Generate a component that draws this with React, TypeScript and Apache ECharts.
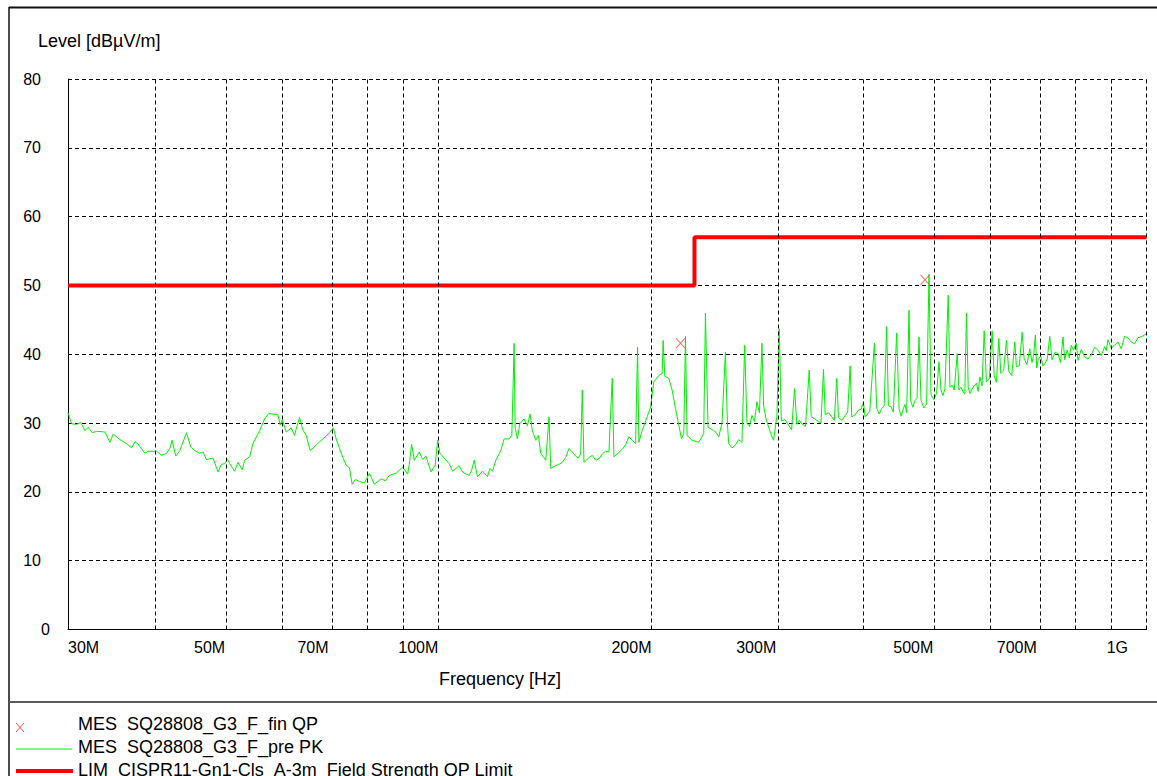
import { useEffect, useRef } from "react";
import * as echarts from "echarts";

// Peak (PK) pre-scan trace: frequency in MHz, level in dBµV/m
const freqMHz = [
  30.0, 30.36, 30.86, 31.26, 31.7, 32.04, 32.46, 32.93, 33.83, 34.38,
  34.75, 35.51, 36.3, 36.89, 37.29, 37.65, 38.52, 38.93, 40.01, 40.66,
  41.33, 41.77, 42.08, 42.59, 43.15, 44.1, 44.72, 45.3, 46.04, 46.54,
  47.05, 48.07, 48.86, 49.4, 49.93, 50.37, 50.75, 51.58, 52.13, 52.88,
  53.28, 54.15, 54.73, 55.94, 56.85, 57.65, 59.36, 59.82, 60.21, 61.0,
  62.0, 62.66, 63.13, 63.69, 64.38, 65.09, 65.94, 67.23, 68.69, 69.45,
  70.2, 71.12, 71.74, 73.3, 74.11, 74.91, 75.57, 76.38, 77.38, 78.64,
  79.93, 81.24, 83.03, 84.19, 85.29, 87.17, 89.05, 90.51, 91.01, 91.69,
  92.5, 94.01, 95.02, 96.08, 97.65, 99.02, 99.76, 100.54, 101.96, 103.62,
  105.9, 108.19, 110.57, 112.38, 113.59, 115.45, 117.33, 119.25, 120.58, 122.55,
  123.87, 125.89, 127.0, 127.54, 127.95, 128.37, 129.33, 130.34, 132.17, 133.6,
  134.77, 135.78, 137.29, 138.45, 139.53, 141.82, 143.34, 144.13, 146.49, 149.67,
  152.95, 156.31, 158.87, 159.7, 160.58, 163.21, 166.8, 170.41, 174.15, 176.03,
  177.0, 181.83, 185.83, 189.92, 191.15, 191.96, 194.03, 197.2, 199.39, 201.54,
  204.84, 207.04, 207.71, 208.86, 211.59, 213.87, 216.24, 218.57, 220.49, 222.15,
  223.37, 224.54, 228.21, 233.23, 237.04, 238.35, 240.37, 244.86, 248.87, 251.55,
  254.34, 255.99, 257.07, 262.72, 268.41, 270.77, 272.8, 277.26, 281.8, 286.41,
  287.99, 292.7, 297.48, 300.68, 303.03, 305.01, 312.31, 318.46, 320.85, 326.09,
  334.02, 336.19, 344.25, 349.88, 351.82, 359.44, 365.33, 367.35, 375.42, 381.56,
  383.55, 391.97, 398.39, 400.59, 412.86, 415.96, 422.76, 429.66, 432.04, 439.1,
  443.84, 447.31, 453.59, 458.47, 462.05, 464.46, 471.14, 477.29, 480.39, 489.2,
  493.03, 496.24, 505.34, 509.29, 512.6, 519.3, 524.9, 527.79, 535.2, 540.44,
  543.42, 551.06, 556.99, 560.07, 566.1, 575.36, 581.74, 589.92, 594.34, 605.43,
  609.37, 618.74, 622.76, 634.19, 639.15, 651.71, 655.1, 667.34, 671.67, 684.22,
  689.35, 696.77, 702.91, 718.35, 730.1, 735.57, 750.02, 762.3, 766.51, 783.11,
  795.93, 800.34, 817.91, 835.62, 853.97, 872.74, 882.14, 891.64, 911.25, 931.27,
  951.42, 972.34, 1000.0,
];
const levelDb = [
  31.5, 29.9, 29.8, 30.1, 28.9, 29.4, 28.6, 28.8, 28.7, 27.2,
  28.4, 27.6, 27.0, 26.4, 27.3, 27.0, 25.6, 25.9, 25.9, 25.3,
  25.6, 26.3, 27.5, 25.2, 26.0, 28.6, 26.5, 26.0, 25.6, 25.8,
  24.7, 24.9, 22.9, 24.0, 24.1, 24.8, 24.1, 23.0, 24.3, 23.2,
  24.6, 25.1, 27.0, 28.9, 30.6, 31.4, 31.2, 29.7, 30.5, 28.7,
  29.3, 28.2, 29.5, 30.8, 29.0, 28.2, 26.0, 26.8, 27.7, 28.1,
  28.6, 29.3, 27.7, 25.0, 23.9, 23.5, 21.1, 21.8, 21.5, 21.3,
  22.7, 21.1, 21.9, 21.6, 22.4, 22.7, 23.6, 22.6, 24.0, 26.9,
  24.6, 25.8, 24.7, 25.2, 22.9, 23.9, 27.5, 25.6, 24.9, 24.1,
  23.4, 22.9, 22.4, 24.6, 22.2, 23.0, 22.2, 23.0, 24.6, 26.0,
  27.7, 27.7, 28.2, 35.5, 41.6, 29.4, 27.7, 29.9, 30.6, 29.6,
  31.3, 28.9, 27.5, 28.2, 25.6, 24.6, 30.9, 23.4, 23.8, 24.3,
  26.3, 25.2, 25.5, 34.8, 24.3, 25.0, 24.6, 25.5, 25.8, 36.5,
  25.1, 26.2, 28.0, 27.0, 41.0, 27.2, 28.9, 30.9, 32.3, 36.0,
  36.9, 37.2, 42.0, 36.8, 36.5, 34.8, 32.1, 29.7, 27.7, 28.5,
  42.6, 28.2, 27.5, 27.2, 28.5, 46.0, 29.4, 28.9, 28.0, 30.0,
  40.3, 30.0, 27.0, 26.8, 27.2, 41.3, 30.0, 31.1, 33.1, 41.6,
  32.5, 29.4, 27.5, 31.0, 43.7, 30.3, 29.7, 35.0, 29.8, 29.9,
  37.7, 30.9, 30.2, 37.8, 31.2, 30.9, 36.5, 30.8, 31.1, 38.3,
  30.9, 31.9, 33.0, 30.9, 41.6, 32.2, 32.1, 44.0, 32.5, 31.6,
  43.1, 32.1, 32.1, 31.5, 46.4, 33.3, 33.3, 42.5, 33.3, 32.8,
  51.6, 34.2, 34.3, 38.9, 34.8, 35.0, 48.6, 35.2, 34.8, 40.1,
  34.8, 34.5, 46.0, 35.2, 34.8, 35.8, 36.7, 43.4, 36.0, 43.4,
  36.9, 42.3, 37.2, 42.0, 37.5, 41.8, 38.2, 43.2, 39.4, 40.8,
  38.8, 42.8, 39.2, 38.6, 42.6, 39.2, 40.1, 42.5, 39.2, 41.3,
  41.6, 39.1, 39.6, 39.9, 40.6, 41.1, 42.1, 40.9, 41.8, 42.6,
  41.8, 42.4, 43.0,
];

// Further readings of the noisy PK band (merged with the trace above by frequency)
const extraFreqMHz = [
  104.8, 107.0, 109.4, 111.5, 116.4, 118.3,
  148.0, 151.3, 154.6, 157.6, 161.9, 165.0, 168.6, 172.3, 179.4, 183.8, 187.9,
  246.9, 259.9, 265.5, 275.0, 279.5, 284.1, 290.3, 295.1,
  308.6, 315.4, 323.5, 330.0, 340.2, 347.0, 355.6, 362.4, 371.4, 378.5, 387.8, 395.2,
  406.7, 419.3, 426.2, 435.6, 450.4, 456.0, 467.8, 474.2, 484.8,
  500.8, 516.0, 531.5, 547.2, 553.9, 563.1, 570.7, 578.5, 585.8, 599.8,
  613.9, 628.4, 645.3, 661.3, 678.0, 693.0, 699.8, 709.0, 714.2, 724.2,
  742.8, 756.1, 772.6, 778.0, 788.5, 808.8, 826.6, 844.7, 863.3, 877.4,
  901.4, 921.2, 941.3, 961.8, 986.2,
];
const extraLevelDb = [
  23.0, 23.8, 22.6, 23.2, 22.6, 23.4,
  24.0, 25.0, 25.8, 24.9, 24.6, 25.3, 24.8, 25.9, 25.6, 26.8, 27.5,
  28.6, 26.4, 27.6, 29.5, 30.2, 31.5, 30.6, 28.3,
  30.5, 29.0, 30.4, 29.5, 30.6, 30.0, 31.5, 30.4, 30.4, 31.6, 31.2, 32.0,
  31.7, 31.3, 32.5, 32.4, 31.0, 32.7, 32.3, 33.6, 32.2,
  33.4, 34.0, 35.5, 35.2, 34.2, 34.3, 35.4, 34.6, 35.4, 36.4,
  35.9, 37.6, 36.9, 38.3, 38.5, 40.0, 38.0, 39.8, 38.3, 39.3,
  40.3, 38.8, 40.6, 39.5, 40.6, 40.7, 39.3, 41.0, 39.8, 40.5,
  41.3, 40.8, 42.4, 41.5, 42.6,
];

// Final quasi-peak (QP) measurements
const qpFreqMHz = [219.8, 486.7];
const qpLevelDb = [41.6, 50.8];

// CISPR 11 class A, 3 m limit
const limitFreqMHz = [30, 230, 230, 1000];
const limitLevelDb = [50, 50, 57, 57];

// Axes
const gridFreqMHz = [40, 50, 60, 70, 80, 90, 100, 200, 300, 400, 500, 600, 700, 800, 900, 1000];
const xTickFreqMHz = [30, 50, 70, 100, 200, 300, 500, 700, 1000];
const xTickLabels = ["30M", "50M", "70M", "100M", "200M", "300M", "500M", "700M", "1G"];
const yMin = 0;
const yMax = 80;
const yStep = 10;

const yAxisTitle = "Level [dBµV/m]";
const xAxisTitle = "Frequency [Hz]";
const legendTexts = [
  "MES  SQ28808_G3_F_fin QP",
  "MES  SQ28808_G3_F_pre PK",
  "LIM  CISPR11-Gn1-Cls_A-3m_Field Strength QP Limit",
];

const FONT = "'Liberation Sans', Arial, sans-serif";
const GREEN = "#00f000";
const RED = "#ff0000";
const XRED = "#ff4a4a";

export default function App() {
  const ref = useRef<HTMLDivElement>(null);

  useEffect(() => {
    if (!ref.current) return;
    const chart = echarts.init(ref.current, null, { renderer: "svg" });
    const lg = (f: number) => Math.log10(f);

    // measure tick-label widths so each label can be right-aligned at its tick
    const ctx = document.createElement("canvas").getContext("2d");
    let widths = xTickLabels.map((t) => t.length * 9);
    if (ctx) {
      ctx.font = `16px ${FONT}`;
      widths = xTickLabels.map((t) => ctx.measureText(t).width);
    }
    const lastShift = 18.5;
    const xRich: any = { t: { fontSize: 16, fontFamily: FONT, color: "#000" } };
    xTickLabels.forEach((_, i) => {
      const w = widths[i];
      xRich[`s${i}`] = { width: i === xTickLabels.length - 1 ? w + 2 * lastShift : w };
    });

    // merged PK trace
    const trace = freqMHz
      .map((f, i) => [f, levelDb[i]])
      .concat(extraFreqMHz.map((f, i) => [f, extraLevelDb[i]]))
      .sort((a, b) => a[0] - b[0])
      .map((p) => [lg(p[0]), p[1]]);

    const option: any = {
      animation: false,
      backgroundColor: "#ffffff",
      grid: { left: 68, right: 10.5, top: 79, bottom: 146.5, containLabel: false, outerBoundsMode: "none" },
      xAxis: {
        type: "value",
        min: lg(30),
        max: lg(1000),
        axisLine: { show: true, onZero: false, lineStyle: { color: "#000", width: 1 } },
        axisTick: { show: false },
        splitLine: { show: false },
        axisLabel: {
          show: true,
          customValues: xTickFreqMHz.map(lg),
          align: "center",
          margin: 10,
          color: "#000",
          fontFamily: FONT,
          fontSize: 16,
          hideOverlap: false,
          formatter: (v: number) => {
            const i = xTickFreqMHz.findIndex((f) => Math.abs(lg(f) - v) < 1e-6);
            if (i < 0) return "";
            const t = xTickLabels[i];
            if (i === 0) return `{s${i}|}{t|${t}}`;
            return `{t|${t}}{s${i}|}`;
          },
          rich: xRich,
        },
      },
      yAxis: {
        type: "value",
        min: yMin,
        max: yMax,
        interval: yStep,
        axisLine: { show: true, lineStyle: { color: "#000", width: 1 } },
        axisTick: { show: false },
        splitLine: { show: true, lineStyle: { type: [4, 3], color: "#000", width: 1 } },
        axisLabel: {
          margin: 18,
          color: "#000",
          fontFamily: FONT,
          fontSize: 16,
          formatter: (v: number) => (v === 0 ? `{n|${v}}` : `{n|${v}}{s|}`),
          rich: {
            n: { fontSize: 16, fontFamily: FONT, color: "#000" },
            s: { width: 9 },
          },
        },
      },
      series: [
        {
          name: "grid",
          type: "line",
          data: [[lg(30), 0]],
          symbol: "none",
          lineStyle: { opacity: 0 },
          silent: true,
          z: 1,
          markLine: {
            silent: true,
            symbol: ["none", "none"],
            label: { show: false },
            lineStyle: { type: [4, 3], color: "#000", width: 1 },
            emphasis: { disabled: true },
            data: gridFreqMHz.map((f) => ({ xAxis: lg(f) })),
          },
        },
        {
          name: legendTexts[2],
          type: "line",
          data: limitFreqMHz.map((f, i) => [lg(f), limitLevelDb[i]]),
          symbol: "none",
          lineStyle: { color: RED, width: 4 },
          z: 2,
          silent: true,
        },
        {
          name: legendTexts[1],
          type: "line",
          data: trace,
          symbol: "none",
          showSymbol: false,
          lineStyle: { color: GREEN, width: 1 },
          z: 3,
          silent: true,
        },
        {
          name: legendTexts[0],
          type: "scatter",
          data: qpFreqMHz.map((f, i) => [lg(f), qpLevelDb[i]]),
          symbol: "path://M0 0L10 10M10 0L0 10",
          symbolSize: [9, 10],
          itemStyle: { color: "transparent", borderColor: XRED, borderWidth: 1 },
          z: 4,
          silent: true,
        },
      ],
      graphic: [
        // frame
        { type: "line", shape: { x1: 9, y1: 7.5, x2: 1157, y2: 7.5 }, style: { stroke: "#111", lineWidth: 2 } },
        { type: "line", shape: { x1: 9, y1: 7, x2: 9, y2: 776 }, style: { stroke: "#111", lineWidth: 1.5 } },
        { type: "line", shape: { x1: 9, y1: 702, x2: 1157, y2: 702 }, style: { stroke: "#5a5a5a", lineWidth: 2 } },
        // axis titles
        {
          type: "text",
          x: 38,
          y: 41,
          style: { text: yAxisTitle, fill: "#000", font: `18px ${FONT}`, verticalAlign: "middle", align: "left" },
        },
        {
          type: "text",
          x: 439,
          y: 679,
          style: { text: xAxisTitle, fill: "#000", font: `18px ${FONT}`, verticalAlign: "middle", align: "left" },
        },
        // legend
        { type: "line", shape: { x1: 16, y1: 723, x2: 24, y2: 732 }, style: { stroke: XRED, lineWidth: 1 } },
        { type: "line", shape: { x1: 24, y1: 723, x2: 16, y2: 732 }, style: { stroke: XRED, lineWidth: 1 } },
        { type: "line", shape: { x1: 16, y1: 749, x2: 72, y2: 749 }, style: { stroke: GREEN, lineWidth: 1 } },
        { type: "line", shape: { x1: 16, y1: 771, x2: 73, y2: 771 }, style: { stroke: RED, lineWidth: 4 } },
        {
          type: "text",
          x: 78,
          y: 724,
          style: { text: legendTexts[0], fill: "#000", font: `18px ${FONT}`, verticalAlign: "middle", align: "left" },
        },
        {
          type: "text",
          x: 78,
          y: 747,
          style: { text: legendTexts[1], fill: "#000", font: `18px ${FONT}`, verticalAlign: "middle", align: "left" },
        },
        {
          type: "text",
          x: 78,
          y: 770,
          style: { text: legendTexts[2], fill: "#000", font: `18px ${FONT}`, verticalAlign: "middle", align: "left" },
        },
      ],
    };

    chart.setOption(option);
    return () => chart.dispose();
  }, []);

  return (
    <div
      ref={ref}
      style={{ position: "fixed", left: 0, top: 0, width: 1157, height: 776, background: "#fff" }}
    />
  );
}
